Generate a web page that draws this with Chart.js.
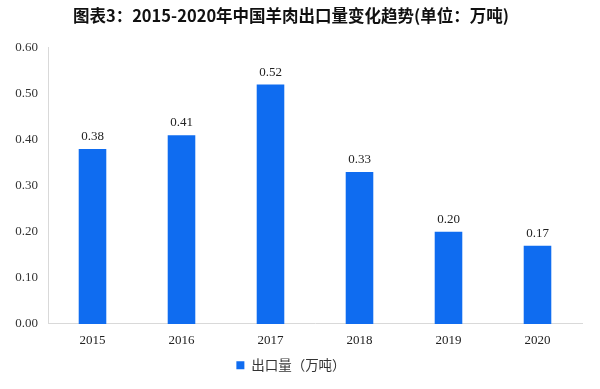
<!DOCTYPE html>
<html><head><meta charset="utf-8">
<script src="https://cdn.jsdelivr.net/npm/chart.js@4/dist/chart.umd.min.js"></script>
<style>html,body{margin:0;padding:0;background:#fff;}#wrap{width:600px;height:389px;}</style>
</head><body><div id="wrap"><canvas id="c" width="600" height="389"></canvas></div>
<script>
const categories = ['2015','2016','2017','2018','2019','2020'];
const exportVolume = [0.38, 0.41, 0.52, 0.33, 0.20, 0.17];
const seriesName = '出口量（万吨）';
const titleText = '图表3：2015-2020年中国羊肉出口量变化趋势(单位：万吨)';

const labelPlugin = {
  id: 'barLabels',
  afterDatasetsDraw(chart) {
    const ctx = chart.ctx;
    const meta = chart.getDatasetMeta(0);
    ctx.save();
    ctx.font = '13px "Liberation Serif"';
    ctx.fillStyle = '#222';
    ctx.textAlign = 'center';
    ctx.textBaseline = 'bottom';
    meta.data.forEach((el, i) => {
      ctx.fillText(exportVolume[i].toFixed(2), el.x, el.y - 6);
    });
    ctx.restore();
  }
};

new Chart(document.getElementById('c'), {
  type: 'bar',
  data: {
    labels: categories,
    datasets: [{
      label: seriesName,
      data: exportVolume,
      backgroundColor: '#0f6cf0',
      categoryPercentage: 1,
      barPercentage: 0.31
    }]
  },
  options: {
    responsive: false,
    animation: false,
    layout: { padding: { left: 0, right: 18, top: 0, bottom: 7 } },
    plugins: {
      title: {
        display: true,
        text: titleText,
        color: '#111',
        font: { family: '"Noto Sans CJK SC"', size: 16.5, weight: 'bold' },
        padding: { top: 6, bottom: 22 }
      },
      legend: {
        position: 'bottom',
        labels: {
          boxWidth: 8, boxHeight: 8,
          color: '#333',
          font: { family: '"Noto Sans CJK SC"', size: 13.5 },
          padding: 9
        }
      },
      tooltip: { enabled: false }
    },
    scales: {
      x: {
        grid: { display: false },
        border: { display: true, color: '#d9d9d9' },
        ticks: { color: '#222', font: { family: '"Liberation Serif"', size: 13 }, padding: 1 }
      },
      y: {
        min: 0, max: 0.6,
        grid: { display: false },
        border: { display: true, color: '#d9d9d9' },
        ticks: {
          stepSize: 0.1,
          color: '#333',
          font: { family: '"Liberation Serif"', size: 13 },
          padding: 2,
          callback: v => Number(v).toFixed(2)
        },
        afterFit(s) { s.width = 48; }
      }
    }
  },
  plugins: [labelPlugin]
});
</script></body></html>
